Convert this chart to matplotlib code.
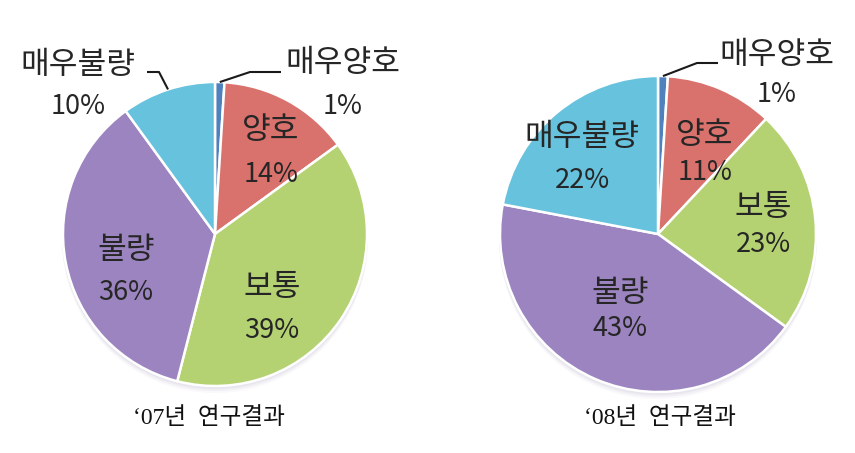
import matplotlib
matplotlib.use("Agg")
import matplotlib.pyplot as plt
import numpy as np
from matplotlib.patches import Circle

plt.rcParams['font.family'] = ['Noto Sans CJK KR', 'DejaVu Sans']

categories = ['매우양호', '양호', '보통', '불량', '매우불량']
values_07 = [1, 14, 39, 36, 10]
values_08 = [1, 11, 23, 43, 22]
titles = ['‘07년  연구결과', '‘08년  연구결과']
colors = ['#4F81BD', '#D9716C', '#B5D273', '#9B84BF', '#67C2DE']

W, H = 855, 453
fig = plt.figure(figsize=(W / 100, H / 100), dpi=100)
ax = fig.add_axes([0, 0, 1, 1])

def fy(y):
    return H - y

pies = [
    dict(vals=values_07, cx=215, cy=234, r=152, title=titles[0], tpos=(209, 418),
         inside={'양호': (271, 130, 175), '보통': (272, 287, 330), '불량': (126, 250, 292)},
         outside={'매우양호': ((343, 63, 106), [(250, 72), (281, 72)]),
                  '매우불량': ((78, 65, 106), [(159, 72), (147, 72)])}),
    dict(vals=values_08, cx=658, cy=234, r=158, title=titles[1], tpos=(660, 418),
         inside={'양호': (705, 135, 172), '보통': (763, 207, 244), '불량': (620, 293, 329),
                 '매우불량': (582, 137, 180)},
         outside={'매우양호': ((777, 55, 95), [(697, 63), (718, 63)])}),
]

txt_color = '#262626'
fs_name = 22.5
fs_pct = 19.5

for p in pies:
    # soft shadow
    for k, a in [(6, 0.05), (4, 0.07), (2, 0.09)]:
        ax.add_patch(Circle((p['cx'], fy(p['cy'] - 0) - k), p['r'] + 1,
                            facecolor='#8C84B0', edgecolor='none', alpha=a, zorder=0))
    ax.pie(p['vals'], colors=colors, startangle=90, counterclock=False,
           center=(p['cx'], fy(p['cy'])), radius=p['r'],
           wedgeprops=dict(edgecolor='white', linewidth=1.8, zorder=1), frame=True)
    total = sum(p['vals'])
    cum = 0
    mids = {}
    for c, v in zip(categories, p['vals']):
        mids[c] = 90 - (cum + v / 2) / total * 360
        cum += v
    for c, (x, y1, y2) in p['inside'].items():
        v = p['vals'][categories.index(c)]
        ax.text(x, fy(y1), c, ha='center', va='center', fontsize=fs_name, color=txt_color)
        ax.text(x, fy(y2), f'{v}%', ha='center', va='center', fontsize=fs_pct, color=txt_color)
    for c, ((x, y1, y2), elbow) in p['outside'].items():
        v = p['vals'][categories.index(c)]
        ax.text(x, fy(y1), c, ha='center', va='center', fontsize=fs_name, color=txt_color)
        ax.text(x, fy(y2), f'{v}%', ha='center', va='center', fontsize=fs_pct, color=txt_color)
        a = np.deg2rad(mids[c])
        sx = p['cx'] + p['r'] * np.cos(a)
        sy = p['cy'] - p['r'] * np.sin(a)
        xs = [sx] + [e[0] for e in elbow]
        ys = [fy(sy)] + [fy(e[1]) for e in elbow]
        ax.plot(xs, ys, color='#1a1a1a', lw=1.5, solid_capstyle='butt', zorder=3)
    ax.text(p['tpos'][0], fy(p['tpos'][1]), p['title'], ha='center', va='center',
            fontsize=17, color='#111111',
            family=['Liberation Serif', 'Noto Sans CJK KR'])

ax.set_xlim(0, W)
ax.set_ylim(0, H)
ax.set_aspect('equal')
ax.axis('off')
fig.savefig('out.png', dpi=100)
